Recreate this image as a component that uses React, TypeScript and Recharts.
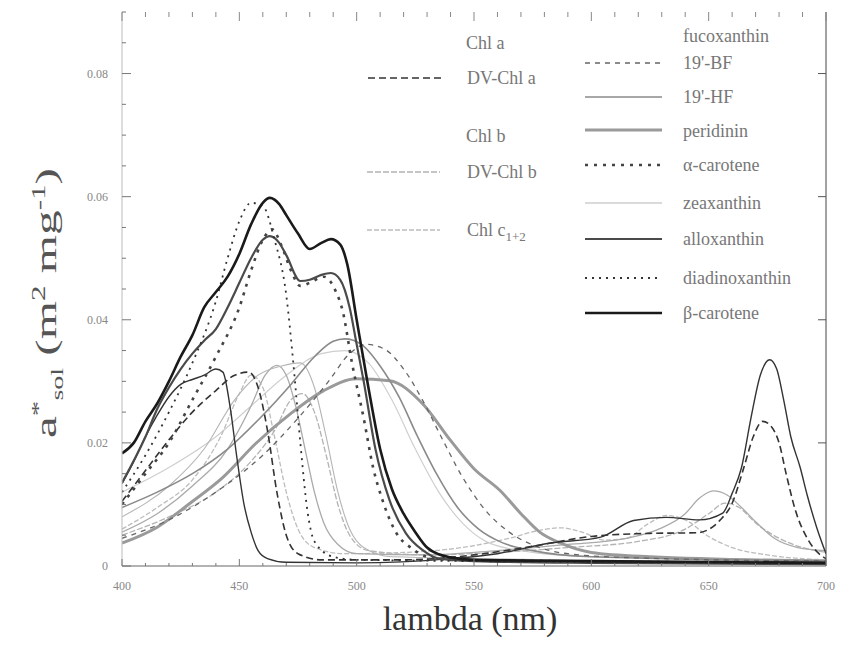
import React from "react";
import { LineChart, Line, XAxis, YAxis } from "recharts";

type Pt = [number, number];

// axis ticks
const xTicks = [400, 410, 420, 430, 440, 450, 460, 470, 480, 490, 500, 510, 520, 530, 540, 550, 560, 570, 580, 590, 600, 610, 620, 630, 640, 650, 660, 670, 680, 690, 700];
const xLabelTicks = [400, 450, 500, 550, 600, 650, 700];
const yTicks = [0, 0.005, 0.01, 0.015, 0.02, 0.025, 0.03, 0.035, 0.04, 0.045, 0.05, 0.055, 0.06, 0.065, 0.07, 0.075, 0.08, 0.085, 0.09];
const yLabelTicks = [0, 0.02, 0.04, 0.06, 0.08];

// specific absorption spectra, [lambda nm, a*sol]
const chlA: Pt[] = [[400, .0134], [405, .017], [410, .021], [415, .0245], [420, .0275], [425, .0295], [430, .0303], [435, .031], [440, .032], [443, .0315], [446, .026], [449, .0175], [452, .010], [455, .0055], [458, .0025], [462, .0012], [470, .0006], [500, .0005], [540, .0012], [560, .002], [582, .0037], [604, .0047], [618, .0074], [632, .0079], [646, .0075], [656, .0086], [660, .0118], [664, .016], [668, .024], [672, .031], [676, .0335], [679, .032], [682, .0269], [685, .021], [689, .016], [692, .0115], [696, .0063], [700, .002]];
const dvChlA: Pt[] = [[400, .0105], [410, .0155], [420, .0205], [430, .025], [440, .0285], [448, .031], [454, .0315], [458, .029], [462, .022], [466, .012], [470, .005], [475, .002], [485, .001], [520, .001], [550, .0018], [575, .0032], [600, .0048], [625, .0053], [645, .0054], [655, .0075], [660, .0102], [665, .016], [669, .021], [673, .0235], [677, .0225], [680, .020], [683, .015], [687, .009], [692, .0045], [697, .002], [700, .0012]];
const chlB: Pt[] = [[400, .0055], [415, .0085], [430, .013], [445, .019], [455, .026], [461, .031], [466, .0326], [470, .031], [474, .026], [478, .019], [482, .012], [486, .007], [492, .0035], [500, .002], [530, .0018], [560, .0025], [590, .0035], [615, .0045], [630, .0062], [640, .0085], [646, .011], [652, .0122], [658, .0115], [664, .0095], [670, .0072], [678, .0045], [688, .003], [700, .0025]];
const dvChlB: Pt[] = [[400, .005], [420, .008], [440, .012], [455, .017], [465, .022], [472, .027], [477, .028], [482, .025], [487, .018], [492, .010], [497, .005], [505, .0025], [530, .0018], [560, .0022], [590, .003], [620, .004], [640, .006], [650, .0085], [657, .0102], [663, .0095], [670, .007], [680, .0045], [690, .003], [700, .0022]];
const chlC: Pt[] = [[400, .006], [415, .0095], [430, .014], [442, .021], [450, .028], [455, .031], [460, .029], [465, .021], [470, .012], [475, .006], [482, .003], [495, .002], [520, .0022], [545, .003], [565, .0045], [578, .0058], [587, .0062], [596, .0055], [606, .0042], [615, .0045], [624, .0068], [632, .0082], [640, .0075], [650, .0048], [660, .003], [675, .0018], [700, .001]];
const fucox: Pt[] = [[400, .012], [420, .016], [440, .021], [455, .026], [470, .031], [485, .0345], [495, .035], [505, .033], [515, .027], [525, .019], [535, .012], [545, .007], [555, .004], [570, .0025], [600, .0015], [700, .001]];
const butFucox: Pt[] = [[400, .0045], [420, .0075], [440, .012], [460, .018], [475, .024], [488, .030], [497, .0345], [504, .036], [512, .0352], [520, .032], [528, .027], [536, .021], [545, .0145], [555, .009], [565, .0055], [578, .003], [595, .0018], [630, .0012], [700, .0008]];
const hexFucox: Pt[] = [[400, .0095], [415, .012], [430, .015], [445, .019], [460, .0245], [472, .0295], [482, .034], [490, .0365], [495, .0369], [502, .036], [510, .0325], [518, .0275], [526, .021], [534, .015], [543, .0095], [552, .006], [562, .0038], [575, .0025], [600, .0015], [700, .0008]];
const peridinin: Pt[] = [[400, .0037], [415, .0063], [429, .0102], [443, .0144], [457, .0199], [472, .0248], [486, .0285], [500, .0304], [514, .0301], [528, .0264], [540, .0204], [550, .0158], [561, .0123], [570, .0085], [578, .0055], [587, .0037], [600, .0022], [625, .0015], [700, .0008]];
const alphaCar: Pt[] = [[400, .010], [410, .015], [420, .020], [430, .027], [440, .034], [450, .042], [455, .048], [460, .053], [464, .0547], [468, .052], [472, .048], [476, .0455], [480, .046], [486, .047], [491, .0447], [494, .0415], [498, .033], [503, .024], [507, .016], [511, .0107], [517, .0053], [523, .003], [530, .0015], [540, .001], [700, .0005]];
const zeax: Pt[] = [[400, .008], [420, .013], [435, .019], [448, .027], [458, .031], [468, .0325], [476, .033], [482, .029], [487, .021], [492, .012], [497, .006], [503, .003], [515, .0015], [700, .0006]];
const allox: Pt[] = [[400, .0135], [410, .021], [415, .0255], [420, .029], [425, .032], [430, .0345], [435, .0366], [440, .0385], [445, .042], [450, .046], [455, .050], [460, .053], [463, .0536], [467, .0525], [470, .0505], [476, .0463], [480, .0465], [485, .0473], [489, .0476], [493, .0465], [497, .042], [500, .036], [503, .030], [508, .019], [514, .0107], [521, .0053], [528, .0026], [535, .0012], [550, .0008], [600, .0005], [700, .0003]];
const diadino: Pt[] = [[400, .012], [410, .018], [420, .025], [430, .033], [440, .043], [445, .050], [450, .056], [455, .059], [460, .0585], [465, .053], [470, .044], [473, .033], [476, .020], [479, .009], [482, .004], [490, .0015], [500, .001], [700, .0005]];
const betaCar: Pt[] = [[400, .0183], [405, .020], [410, .0235], [415, .0264], [420, .030], [425, .034], [430, .0375], [435, .042], [440, .0445], [445, .047], [450, .0507], [455, .0555], [460, .059], [463, .0598], [467, .0588], [470, .057], [475, .054], [480, .0515], [485, .0525], [489, .0531], [493, .0522], [496, .049], [500, .040], [505, .029], [510, .019], [515, .0125], [520, .0085], [525, .0055], [530, .003], [535, .0019], [540, .0014], [550, .001], [600, .0008], [700, .0005]];

const SERIF = "'Liberation Serif', 'DejaVu Serif', serif";

interface LineStyle { stroke: string; width: number; dash?: string }

const styles: Record<string, LineStyle> = {
  fucox: { stroke: "#cfcfcf", width: 1.2 },
  chlC: { stroke: "#bdbdbd", width: 1.3, dash: "5 2" },
  dvChlB: { stroke: "#b3b3b3", width: 1.3, dash: "6 2" },
  chlB: { stroke: "#aaaaaa", width: 1.3 },
  zeax: { stroke: "#b5b5b5", width: 1.1 },
  peridinin: { stroke: "#9a9a9a", width: 3 },
  hexFucox: { stroke: "#8a8a8a", width: 1.6 },
  butFucox: { stroke: "#666", width: 1.3, dash: "5 5" },
  chlA: { stroke: "#333", width: 1.4 },
  dvChlA: { stroke: "#333", width: 1.6, dash: "7 4" },
  alphaCar: { stroke: "#444", width: 2.6, dash: "3 6" },
  allox: { stroke: "#4a4a4a", width: 2.2 },
  diadino: { stroke: "#333", width: 1.8, dash: "2 5" },
  betaCar: { stroke: "#1a1a1a", width: 2.6 },
};

// draw order: faint first, dark on top
const seriesList: { key: string; name: string; data: Pt[] }[] = [
  { key: "fucox", name: "fucoxanthin", data: fucox },
  { key: "chlC", name: "Chl c", data: chlC },
  { key: "dvChlB", name: "DV-Chl b", data: dvChlB },
  { key: "chlB", name: "Chl b", data: chlB },
  { key: "zeax", name: "zeaxanthin", data: zeax },
  { key: "peridinin", name: "peridinin", data: peridinin },
  { key: "hexFucox", name: "19'-HF", data: hexFucox },
  { key: "butFucox", name: "19'-BF", data: butFucox },
  { key: "chlA", name: "Chl a", data: chlA },
  { key: "dvChlA", name: "DV-Chl a", data: dvChlA },
  { key: "alphaCar", name: "α-carotene", data: alphaCar },
  { key: "allox", name: "alloxanthin", data: allox },
  { key: "diadino", name: "diadinoxanthin", data: diadino },
  { key: "betaCar", name: "β-carotene", data: betaCar },
];

const toRows = (pts: Pt[]) => pts.map(([nm, v]) => ({ nm, v }));

function BottomTick({ x, y, payload }: any) {
  const v = payload.value as number;
  const major = xLabelTicks.includes(v);
  return (
    <g>
      <line x1={x} x2={x} y1={y} y2={y - (major ? 7 : 3)} stroke="#777" />
      {major && (
        <text x={x} y={y + 24} textAnchor="middle" fontFamily={SERIF} fontSize={12} fill="#888">
          {v}
        </text>
      )}
    </g>
  );
}

function TopTick({ x, y, payload }: any) {
  const major = xLabelTicks.includes(payload.value);
  return <line x1={x} x2={x} y1={y} y2={y + (major ? 9 : 5)} stroke="#888" />;
}

function LeftTick({ x, y, payload }: any) {
  const v = payload.value as number;
  const major = yLabelTicks.some((t) => Math.abs(t - v) < 1e-9);
  return (
    <g>
      <line x1={x} x2={x + (major ? 9 : 4)} y1={y} y2={y} stroke="#777" />
      {major && (
        <text x={x - 14} y={y + 4} textAnchor="end" fontFamily={SERIF} fontSize={12} fill="#888">
          {v === 0 ? "0" : v.toFixed(2)}
        </text>
      )}
    </g>
  );
}

function RightTick({ x, y }: any) {
  return <line x1={x} x2={x - 8} y1={y} y2={y} stroke="#555" />;
}

function LegendSample({ k, x1, x2, y }: { k: string; x1: number; x2: number; y: number }) {
  const s = styles[k];
  return <line x1={x1} x2={x2} y1={y} y2={y} stroke={s.stroke} strokeWidth={s.width} strokeDasharray={s.dash} />;
}

const legendText = { fontFamily: SERIF, fontSize: 18, fill: "#777" } as const;

export default function App() {
  return (
    <div style={{ position: "absolute", left: 0, top: 0, width: 851, height: 646, background: "#fff" }}>
      <LineChart width={851} height={646} margin={{ top: 11, right: 24, bottom: 40, left: 62 }}>
        <XAxis
          xAxisId="bottom"
          dataKey="nm"
          type="number"
          domain={[400, 700]}
          ticks={xTicks}
          interval={0}
          allowDataOverflow
          height={40}
          tickSize={0}
          tickMargin={0}
          tickLine={false}
          axisLine={{ stroke: "#666" }}
          tick={<BottomTick />}
        />
        <XAxis
          xAxisId="top"
          orientation="top"
          dataKey="nm"
          type="number"
          domain={[400, 700]}
          ticks={xTicks}
          interval={0}
          allowDataOverflow
          height={1}
          tickSize={0}
          tickMargin={0}
          tickLine={false}
          axisLine={false}
          tick={<TopTick />}
        />
        <YAxis
          yAxisId="left"
          type="number"
          domain={[0, 0.09]}
          ticks={yTicks}
          interval={0}
          allowDataOverflow
          width={60}
          tickSize={0}
          tickMargin={0}
          tickLine={false}
          axisLine={{ stroke: "#bbb" }}
          tick={<LeftTick />}
        />
        <YAxis
          yAxisId="right"
          orientation="right"
          type="number"
          domain={[0, 0.09]}
          ticks={[0.02, 0.04, 0.06, 0.08]}
          interval={0}
          allowDataOverflow
          width={1}
          tickSize={0}
          tickMargin={0}
          tickLine={false}
          axisLine={{ stroke: "#444" }}
          tick={<RightTick />}
        />
        {seriesList.map((s) => {
          // the top/right frame axes share the same scales; bind the last series to them so they get ticks
          const framed = s.key === "betaCar";
          return (
            <Line
              key={s.key}
              xAxisId={framed ? "top" : "bottom"}
              yAxisId={framed ? "right" : "left"}
              data={toRows(s.data)}
              dataKey="v"
              name={s.name}
              type="monotone"
              stroke={styles[s.key].stroke}
              strokeWidth={styles[s.key].width}
              strokeDasharray={styles[s.key].dash}
              dot={false}
              activeDot={false}
              isAnimationActive={false}
            />
          );
        })}
      </LineChart>

      <svg width={851} height={646} style={{ position: "absolute", left: 0, top: 0, pointerEvents: "none" }}>
        {/* axis titles */}
        <text
          transform="translate(56,303) rotate(-90)"
          textAnchor="middle"
          fontFamily={SERIF}
          fontSize={30}
          fill="#555"
          textLength={270}
          lengthAdjust="spacingAndGlyphs"
        >
          a<tspan dy={-11} fontSize={19}>*</tspan>
          <tspan dy={18} fontSize={17}>sol</tspan>
          <tspan dy={-7}> (m</tspan>
          <tspan dy={-11} fontSize={19}>2</tspan>
          <tspan dy={11}> mg</tspan>
          <tspan dy={-11} fontSize={19}>-1</tspan>
          <tspan dy={11}>)</tspan>
        </text>
        <text x={470} y={630} textAnchor="middle" fontFamily={SERIF} fontSize={34} fill="#333">
          lambda (nm)
        </text>

        {/* legend, left column */}
        <text x={466} y={49} {...legendText}>Chl a</text>
        <LegendSample k="dvChlA" x1={368} x2={441} y={78} />
        <text x={467} y={84} {...legendText}>DV-Chl a</text>
        <text x={466} y={142} {...legendText}>Chl b</text>
        <LegendSample k="dvChlB" x1={367} x2={440} y={172} />
        <text x={467} y={178} {...legendText}>DV-Chl b</text>
        <LegendSample k="chlC" x1={367} x2={440} y={230} />
        <text x={467} y={236} {...legendText}>
          Chl c<tspan dy={5} fontSize={13}>1+2</tspan>
        </text>

        {/* legend, right column */}
        <text x={683} y={42} {...legendText}>fucoxanthin</text>
        <LegendSample k="butFucox" x1={585} x2={662} y={63} />
        <text x={683} y={69} {...legendText}>19'-BF</text>
        <LegendSample k="hexFucox" x1={585} x2={662} y={97} />
        <text x={683} y={103} {...legendText}>19'-HF</text>
        <LegendSample k="peridinin" x1={585} x2={662} y={130} />
        <text x={683} y={137} {...legendText}>peridinin</text>
        <LegendSample k="alphaCar" x1={585} x2={662} y={165} />
        <text x={683} y={171} {...legendText}>α-carotene</text>
        <LegendSample k="zeax" x1={585} x2={662} y={203} />
        <text x={683} y={209} {...legendText}>zeaxanthin</text>
        <LegendSample k="allox" x1={585} x2={662} y={239} />
        <text x={683} y={245} {...legendText}>alloxanthin</text>
        <LegendSample k="diadino" x1={585} x2={662} y={278} />
        <text x={683} y={284} {...legendText}>diadinoxanthin</text>
        <LegendSample k="betaCar" x1={585} x2={662} y={313} />
        <text x={683} y={319} {...legendText}>β-carotene</text>
      </svg>
    </div>
  );
}
